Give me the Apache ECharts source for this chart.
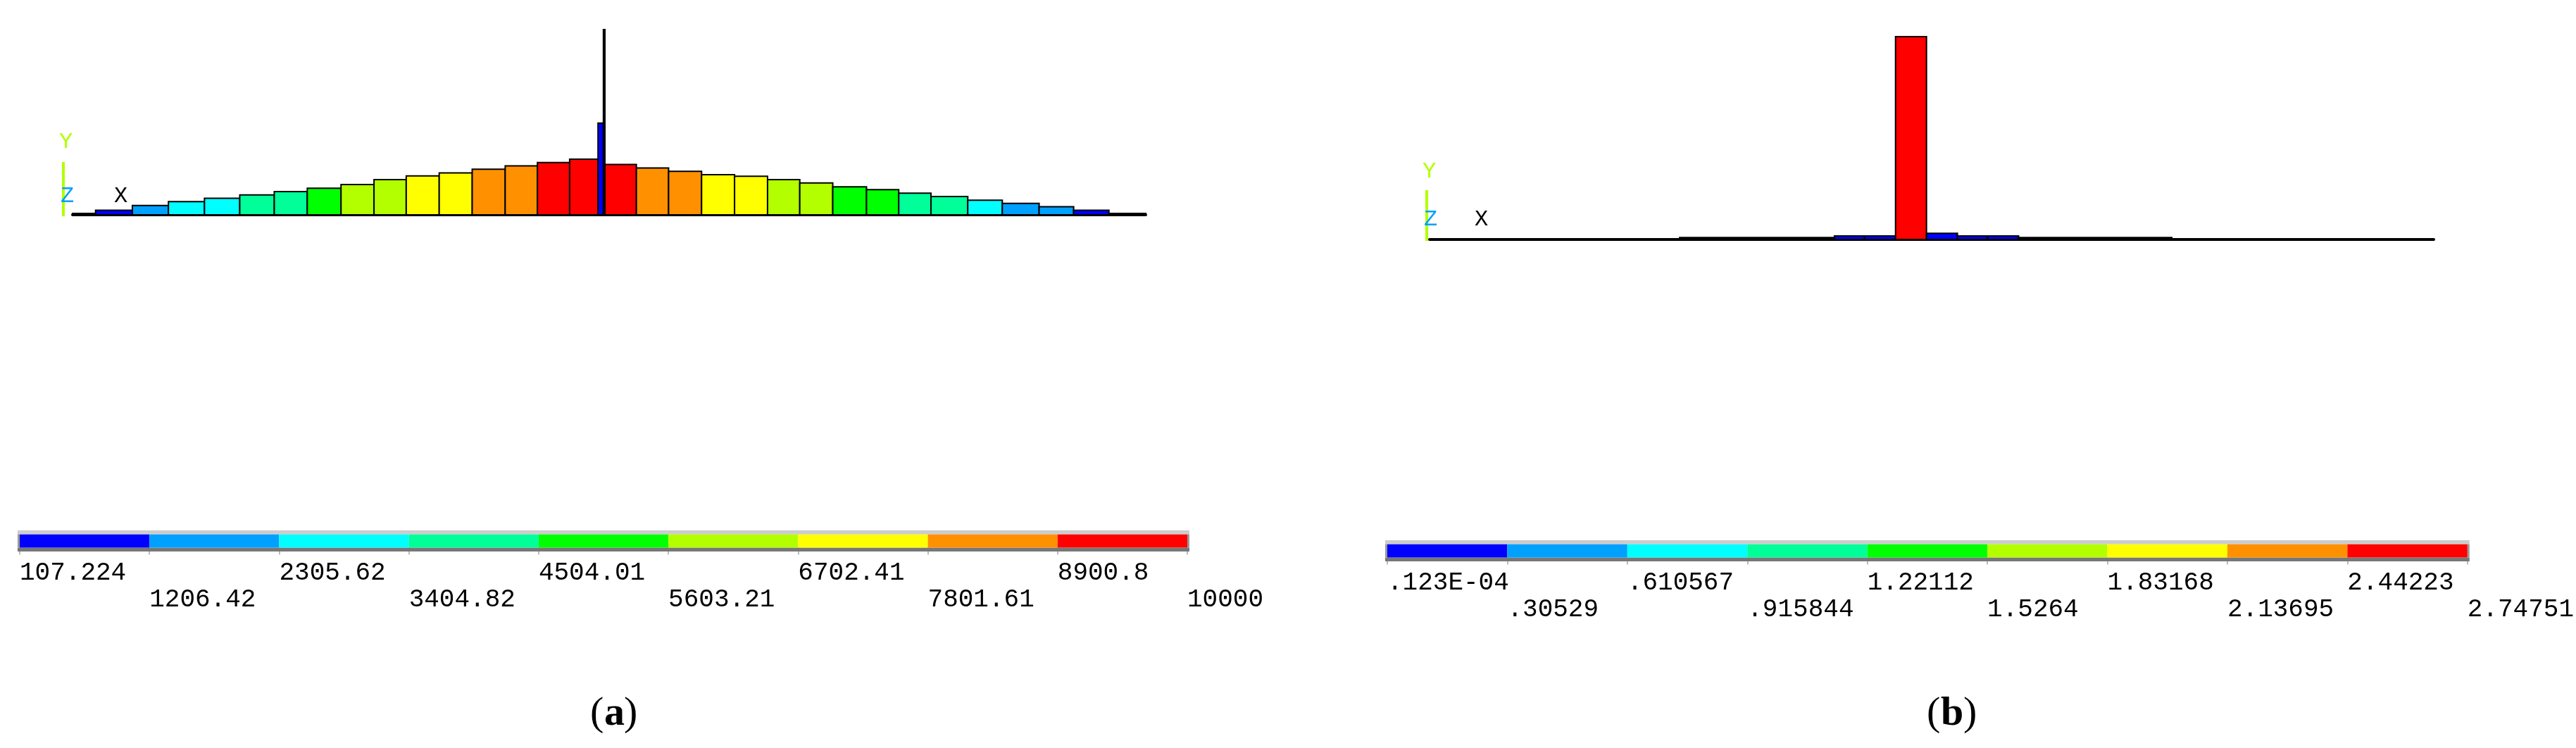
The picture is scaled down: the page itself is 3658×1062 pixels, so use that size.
<!DOCTYPE html>
<html>
<head>
<meta charset="utf-8">
<script src="https://cdn.jsdelivr.net/npm/echarts@6/dist/echarts.min.js"></script>
<style>html,body{margin:0;padding:0;background:#fff}#main{width:3658px;height:1062px}</style>
</head>
<body>
<div id="main"></div>
<script>
var myChart = echarts.init(document.getElementById('main'));

// 色带（ANSYS 九级）
var palette = ['#0000ff', '#00a0ff', '#00ffff', '#00ff99', '#00ff00', '#b3ff00', '#ffff00', '#ff9100', '#ff0000'];

// 图 (a)：单元左右边界、高度、颜色等级（-1 为黑色）
var aStart = [95, 125, 173, 220, 267, 313, 358, 401, 445, 488, 530, 573, 616, 659, 701, 743, 780, 787, 789, 830, 872, 915, 958, 1001, 1043, 1086, 1130, 1172, 1214, 1262, 1307, 1355, 1400, 1446];
var aEnd   = [125, 173, 220, 267, 313, 358, 401, 445, 488, 530, 573, 616, 659, 701, 743, 780, 787, 789, 830, 872, 915, 958, 1001, 1043, 1086, 1130, 1172, 1214, 1262, 1307, 1355, 1400, 1446, 1494];
var aHeight = [6, 19, 39, 55, 69, 83, 97, 111, 126, 147, 162, 175, 190, 204, 218, 232, 382, 772, 210, 195, 181, 167, 161, 147, 133, 117, 105, 90, 76, 61, 48, 34, 19, 6];
var aLevel  = [-1, 0, 1, 2, 2, 3, 3, 4, 5, 5, 6, 6, 7, 7, 8, 8, 0, -1, 8, 7, 7, 6, 6, 5, 5, 4, 4, 3, 3, 2, 1, 1, 0, -1];

// 图 (b)
var bStart  = [430, 625, 663, 702, 741, 780, 818, 857];
var bEnd    = [625, 663, 702, 741, 780, 818, 857, 1050];
var bHeight = [8, 15, 15, 861, 26, 15, 15, 8];
var bLevel  = [-1, 0, 0, 8, 0, 0, 0, -1];

// 色带刻度标签
var aTicks = ['107.224', '1206.42', '2305.62', '3404.82', '4504.01', '5603.21', '6702.41', '7801.61', '8900.8', '10000'];
var bTicks = ['.123E-04', '.30529', '.610567', '.915844', '1.22112', '1.5264', '1.83168', '2.13695', '2.44223', '2.74751'];

function zip(s, e, h, l) {
    return s.map(function (v, i) { return [v, e[i], h[i], l[i]]; });
}

function renderBar(params, api) {
    var p0 = api.coord([api.value(0), api.value(2)]);
    var p1 = api.coord([api.value(1), 0]);
    var lv = api.value(3);
    return {
        type: 'rect',
        shape: { x: p0[0], y: p0[1], width: p1[0] - p0[0], height: p1[1] - p0[1] },
        style: { fill: lv < 0 ? '#000' : palette[lv], stroke: '#000', lineWidth: 2 }
    };
}

function renderLegend(params, api) {
    var p0 = api.coord([api.value(0), 1]);
    var p1 = api.coord([api.value(0) + 1, 0]);
    return {
        type: 'rect',
        shape: { x: p0[0], y: p0[1], width: p1[0] - p0[0], height: p1[1] - p0[1] },
        style: { fill: palette[api.value(0)] }
    };
}

function renderFrame(params, api) {
    var tl = api.coord([0, 1.3]);
    var br = api.coord([9, -0.3]);
    var m1 = api.coord([0, 1]);
    var m0 = api.coord([0, 0]);
    return {
        type: 'group',
        children: [
            { type: 'rect', shape: { x: tl[0] - 3, y: tl[1], width: br[0] - tl[0] + 6, height: m1[1] - tl[1] }, style: { fill: '#cccccc' } },
            { type: 'rect', shape: { x: tl[0] - 3, y: m0[1], width: br[0] - tl[0] + 6, height: br[1] - m0[1] }, style: { fill: '#777777' } },
            { type: 'rect', shape: { x: tl[0] - 3, y: m1[1], width: 3, height: m0[1] - m1[1] }, style: { fill: '#999' } },
            { type: 'rect', shape: { x: br[0], y: m1[1], width: 3, height: m0[1] - m1[1] }, style: { fill: '#999' } }
        ]
    };
}

var levels = palette.map(function (c, i) { return [i]; });

// parity 0: 上排标签；parity 1: 下排标签
function legendAxis(idx, ticks, parity) {
    return {
        type: 'value', gridIndex: idx, min: 0, max: 9, interval: 1, position: 'bottom',
        axisLine: { show: false }, splitLine: { show: false },
        axisTick: { show: parity === 0, length: 10, lineStyle: { color: '#bbbbbb', width: 2 } },
        axisLabel: {
            show: true, interval: 0, align: 'left', margin: parity ? 50 : 12,
            showMinLabel: true, showMaxLabel: true, hideOverlap: false,
            fontFamily: 'Liberation Mono', fontSize: 36, color: '#000',
            formatter: function (v) { var i = Math.round(v); return i % 2 === parity ? ticks[i] : ''; }
        }
    };
}

function plainAxis(idx, min, max, line) {
    return {
        type: 'value', gridIndex: idx, min: min, max: max,
        axisLine: { show: line, onZero: false, lineStyle: { color: '#000', width: 4 } },
        axisTick: { show: false }, axisLabel: { show: false }, splitLine: { show: false }
    };
}

function triad(x, yTop, yBase, yY, yZ, xX) {
    return [
        { type: 'line', shape: { x1: x, y1: yTop, x2: x, y2: yBase }, style: { stroke: '#b3ff00', lineWidth: 4 } },
        { type: 'text', left: x - 6, top: yY - 18, style: { text: 'Y', fill: '#b3ff00', font: '32px "Liberation Mono"' } },
        { type: 'text', left: x - 4, top: yZ - 18, style: { text: 'Z', fill: '#00a0ff', font: '32px "Liberation Mono"' } },
        { type: 'text', left: xX, top: yZ - 18, style: { text: 'X', fill: '#000', font: '32px "Liberation Mono"' } }
    ];
}

var capFont = '58px "Liberation Serif"';

var option = {
    animation: false,
    grid: [
        { left: 103, width: 1524, top: 42, height: 263 },
        { left: 2030, width: 1426, top: 52, height: 288 },
        { left: 28, width: 1658, top: 753, height: 30 },
        { left: 1970, width: 1552, top: 767, height: 30 }
    ],
    xAxis: [
        plainAxis(0, 95, 1494, true),
        plainAxis(1, 115, 1380, true),
        legendAxis(2, aTicks, 0),
        legendAxis(3, bTicks, 0),
        legendAxis(2, aTicks, 1),
        legendAxis(3, bTicks, 1)
    ],
    yAxis: [
        plainAxis(0, 0, 772, false),
        plainAxis(1, 0, 861, false),
        plainAxis(2, -0.3, 1.3, false),
        plainAxis(3, -0.3, 1.3, false)
    ],
    series: [
        { type: 'custom', xAxisIndex: 0, yAxisIndex: 0, renderItem: renderBar, data: zip(aStart, aEnd, aHeight, aLevel) },
        { type: 'custom', xAxisIndex: 1, yAxisIndex: 1, renderItem: renderBar, data: zip(bStart, bEnd, bHeight, bLevel) },
        { type: 'custom', xAxisIndex: 2, yAxisIndex: 2, renderItem: renderFrame, data: [[0]], z: 1 },
        { type: 'custom', xAxisIndex: 2, yAxisIndex: 2, renderItem: renderLegend, data: levels, z: 2 },
        { type: 'custom', xAxisIndex: 3, yAxisIndex: 3, renderItem: renderFrame, data: [[0]], z: 1 },
        { type: 'custom', xAxisIndex: 3, yAxisIndex: 3, renderItem: renderLegend, data: levels, z: 2 }
    ],
    graphic: triad(90, 230, 307, 204, 281, 162)
        .concat(triad(2026, 270, 342, 246, 314, 2094))
        .concat([
            { type: 'text', left: 838, top: 985, style: { text: '(', font: capFont, fill: '#000' } },
            { type: 'text', left: 858, top: 985, style: { text: 'a', font: 'bold ' + capFont, fill: '#000' } },
            { type: 'text', left: 886, top: 985, style: { text: ')', font: capFont, fill: '#000' } },
            { type: 'text', left: 2736, top: 985, style: { text: '(', font: capFont, fill: '#000' } },
            { type: 'text', left: 2756, top: 985, style: { text: 'b', font: 'bold ' + capFont, fill: '#000' } },
            { type: 'text', left: 2788, top: 985, style: { text: ')', font: capFont, fill: '#000' } }
        ])
};

option && myChart.setOption(option);
</script>
</body>
</html>
